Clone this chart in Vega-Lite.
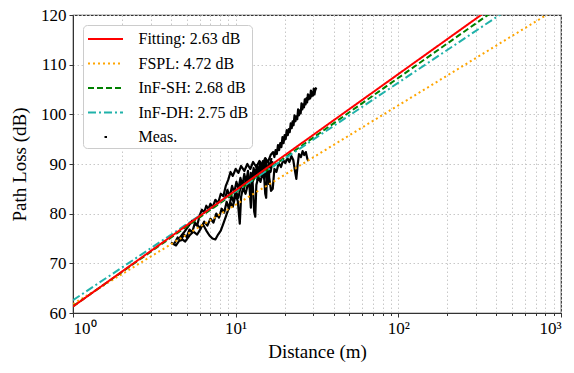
{
  "$schema": "https://vega.github.io/schema/vega-lite/v6.json",
  "width": 488,
  "height": 298,
  "autosize": {"type": "none"},
  "padding": {"left": 73, "top": 15, "right": 13, "bottom": 60},
  "background": "white",
  "config": {
    "font": "Liberation Serif",
    "view": {"stroke": "#333", "strokeWidth": 1.2},
    "axis": {
      "labelFont": "Liberation Serif",
      "titleFont": "Liberation Serif",
      "labelFontSize": 17,
      "titleFontSize": 19,
      "titleFontWeight": "normal",
      "labelColor": "#000",
      "titleColor": "#000",
      "tickColor": "#333",
      "domainColor": "#333",
      "gridColor": "#c8c8c8",
      "gridDash": [1.5, 2.5],
      "gridWidth": 1
    },
    "legend": {
      "labelFont": "Liberation Serif",
      "labelFontSize": 16,
      "labelColor": "#000",
      "labelLimit": 300
    }
  },
  "datasets": {
    "models": [
      {"series": "FSPL: 4.72 dB", "d": 1, "pl": 61.8},
      {"series": "FSPL: 4.72 dB", "d": 1000, "pl": 121.8},
      {"series": "InF-SH: 2.68 dB", "d": 1, "pl": 61.34},
      {"series": "InF-SH: 2.68 dB", "d": 1000, "pl": 130.34},
      {"series": "InF-DH: 2.75 dB", "d": 1, "pl": 62.57},
      {"series": "InF-DH: 2.75 dB", "d": 1000, "pl": 128.27},
      {"series": "Fitting: 2.63 dB", "d": 1, "pl": 61.3},
      {"series": "Fitting: 2.63 dB", "d": 1000, "pl": 131.5}
    ],
    "meas": [
      {"series": "Meas.", "trace": 1, "d": 4.2, "pl": 74.0},
      {"series": "Meas.", "trace": 1, "d": 4.4, "pl": 75.2},
      {"series": "Meas.", "trace": 1, "d": 4.6, "pl": 74.6},
      {"series": "Meas.", "trace": 1, "d": 4.8, "pl": 75.8},
      {"series": "Meas.", "trace": 1, "d": 5.0, "pl": 75.3},
      {"series": "Meas.", "trace": 1, "d": 5.2, "pl": 76.8},
      {"series": "Meas.", "trace": 1, "d": 5.4, "pl": 76.2},
      {"series": "Meas.", "trace": 1, "d": 5.6, "pl": 78.0},
      {"series": "Meas.", "trace": 1, "d": 5.8, "pl": 77.6},
      {"series": "Meas.", "trace": 1, "d": 6.0, "pl": 79.6},
      {"series": "Meas.", "trace": 1, "d": 6.2, "pl": 80.8},
      {"series": "Meas.", "trace": 1, "d": 6.4, "pl": 80.2},
      {"series": "Meas.", "trace": 1, "d": 6.6, "pl": 81.6},
      {"series": "Meas.", "trace": 1, "d": 6.8, "pl": 80.9},
      {"series": "Meas.", "trace": 1, "d": 7.0, "pl": 82.0},
      {"series": "Meas.", "trace": 1, "d": 7.2, "pl": 81.2},
      {"series": "Meas.", "trace": 1, "d": 7.5, "pl": 82.8},
      {"series": "Meas.", "trace": 1, "d": 7.8, "pl": 82.1},
      {"series": "Meas.", "trace": 1, "d": 8.1, "pl": 84.0},
      {"series": "Meas.", "trace": 1, "d": 8.4, "pl": 83.5},
      {"series": "Meas.", "trace": 1, "d": 8.7, "pl": 85.6},
      {"series": "Meas.", "trace": 1, "d": 9.0, "pl": 86.8},
      {"series": "Meas.", "trace": 1, "d": 9.3, "pl": 88.4},
      {"series": "Meas.", "trace": 1, "d": 9.6, "pl": 87.6},
      {"series": "Meas.", "trace": 1, "d": 10.0, "pl": 89.0},
      {"series": "Meas.", "trace": 1, "d": 10.4, "pl": 88.2},
      {"series": "Meas.", "trace": 1, "d": 10.8, "pl": 89.6},
      {"series": "Meas.", "trace": 1, "d": 11.3, "pl": 88.6},
      {"series": "Meas.", "trace": 1, "d": 11.8, "pl": 90.0},
      {"series": "Meas.", "trace": 1, "d": 12.3, "pl": 89.0},
      {"series": "Meas.", "trace": 1, "d": 12.8, "pl": 90.4},
      {"series": "Meas.", "trace": 1, "d": 13.4, "pl": 89.4},
      {"series": "Meas.", "trace": 1, "d": 14.0, "pl": 90.6},
      {"series": "Meas.", "trace": 1, "d": 14.6, "pl": 89.8},
      {"series": "Meas.", "trace": 1, "d": 15.2, "pl": 91.2},
      {"series": "Meas.", "trace": 1, "d": 15.8, "pl": 90.4},
      {"series": "Meas.", "trace": 1, "d": 16.4, "pl": 91.8},
      {"series": "Meas.", "trace": 1, "d": 17.0, "pl": 92.4},
      {"series": "Meas.", "trace": 1, "d": 17.3, "pl": 91.4},
      {"series": "Meas.", "trace": 1, "d": 17.6, "pl": 92.8},
      {"series": "Meas.", "trace": 1, "d": 17.9, "pl": 92.0},
      {"series": "Meas.", "trace": 1, "d": 18.2, "pl": 93.8},
      {"series": "Meas.", "trace": 1, "d": 18.5, "pl": 92.8},
      {"series": "Meas.", "trace": 1, "d": 18.8, "pl": 94.2},
      {"series": "Meas.", "trace": 1, "d": 19.1, "pl": 93.4},
      {"series": "Meas.", "trace": 1, "d": 19.4, "pl": 95.4},
      {"series": "Meas.", "trace": 1, "d": 19.7, "pl": 94.2},
      {"series": "Meas.", "trace": 1, "d": 20.0, "pl": 95.8},
      {"series": "Meas.", "trace": 1, "d": 20.3, "pl": 95.0},
      {"series": "Meas.", "trace": 1, "d": 20.6, "pl": 96.8},
      {"series": "Meas.", "trace": 1, "d": 20.9, "pl": 95.8},
      {"series": "Meas.", "trace": 1, "d": 21.2, "pl": 97.0},
      {"series": "Meas.", "trace": 1, "d": 21.5, "pl": 96.4},
      {"series": "Meas.", "trace": 1, "d": 21.8, "pl": 98.2},
      {"series": "Meas.", "trace": 1, "d": 22.1, "pl": 97.2},
      {"series": "Meas.", "trace": 1, "d": 22.4, "pl": 98.6},
      {"series": "Meas.", "trace": 1, "d": 22.7, "pl": 97.8},
      {"series": "Meas.", "trace": 1, "d": 23.0, "pl": 99.8},
      {"series": "Meas.", "trace": 1, "d": 23.3, "pl": 98.6},
      {"series": "Meas.", "trace": 1, "d": 23.6, "pl": 99.6},
      {"series": "Meas.", "trace": 1, "d": 23.9, "pl": 99.0},
      {"series": "Meas.", "trace": 1, "d": 24.2, "pl": 101.0},
      {"series": "Meas.", "trace": 1, "d": 24.5, "pl": 99.8},
      {"series": "Meas.", "trace": 1, "d": 24.8, "pl": 100.8},
      {"series": "Meas.", "trace": 1, "d": 25.1, "pl": 100.2},
      {"series": "Meas.", "trace": 1, "d": 25.4, "pl": 102.2},
      {"series": "Meas.", "trace": 1, "d": 25.7, "pl": 101.0},
      {"series": "Meas.", "trace": 1, "d": 26.0, "pl": 102.0},
      {"series": "Meas.", "trace": 1, "d": 26.3, "pl": 101.4},
      {"series": "Meas.", "trace": 1, "d": 26.6, "pl": 103.0},
      {"series": "Meas.", "trace": 1, "d": 26.9, "pl": 102.0},
      {"series": "Meas.", "trace": 1, "d": 27.2, "pl": 103.2},
      {"series": "Meas.", "trace": 1, "d": 27.5, "pl": 102.4},
      {"series": "Meas.", "trace": 1, "d": 27.8, "pl": 104.0},
      {"series": "Meas.", "trace": 1, "d": 28.1, "pl": 103.0},
      {"series": "Meas.", "trace": 1, "d": 28.4, "pl": 103.8},
      {"series": "Meas.", "trace": 1, "d": 28.7, "pl": 103.2},
      {"series": "Meas.", "trace": 1, "d": 29.0, "pl": 104.8},
      {"series": "Meas.", "trace": 1, "d": 29.3, "pl": 103.6},
      {"series": "Meas.", "trace": 1, "d": 29.6, "pl": 104.4},
      {"series": "Meas.", "trace": 1, "d": 29.9, "pl": 103.8},
      {"series": "Meas.", "trace": 1, "d": 30.2, "pl": 105.2},
      {"series": "Meas.", "trace": 1, "d": 30.5, "pl": 104.0},
      {"series": "Meas.", "trace": 1, "d": 30.8, "pl": 104.8},
      {"series": "Meas.", "trace": 1, "d": 31.3, "pl": 105.4},
      {"series": "Meas.", "trace": 2, "d": 4.5, "pl": 75.0},
      {"series": "Meas.", "trace": 2, "d": 4.8, "pl": 76.2},
      {"series": "Meas.", "trace": 2, "d": 5.1, "pl": 77.4},
      {"series": "Meas.", "trace": 2, "d": 5.4, "pl": 78.6},
      {"series": "Meas.", "trace": 2, "d": 5.7, "pl": 78.0},
      {"series": "Meas.", "trace": 2, "d": 6.0, "pl": 77.2},
      {"series": "Meas.", "trace": 2, "d": 6.3, "pl": 77.8},
      {"series": "Meas.", "trace": 2, "d": 6.6, "pl": 76.6},
      {"series": "Meas.", "trace": 2, "d": 6.9, "pl": 75.6},
      {"series": "Meas.", "trace": 2, "d": 7.2, "pl": 75.0},
      {"series": "Meas.", "trace": 2, "d": 7.5, "pl": 74.8},
      {"series": "Meas.", "trace": 2, "d": 7.8, "pl": 75.8},
      {"series": "Meas.", "trace": 2, "d": 8.1, "pl": 76.6},
      {"series": "Meas.", "trace": 2, "d": 8.4, "pl": 78.0},
      {"series": "Meas.", "trace": 2, "d": 8.7, "pl": 79.4},
      {"series": "Meas.", "trace": 2, "d": 9.0, "pl": 80.8},
      {"series": "Meas.", "trace": 2, "d": 9.3, "pl": 82.2},
      {"series": "Meas.", "trace": 2, "d": 9.6, "pl": 81.4},
      {"series": "Meas.", "trace": 2, "d": 10.0, "pl": 83.8},
      {"series": "Meas.", "trace": 2, "d": 10.3, "pl": 82.6},
      {"series": "Meas.", "trace": 2, "d": 10.6, "pl": 78.0},
      {"series": "Meas.", "trace": 2, "d": 10.8, "pl": 83.4},
      {"series": "Meas.", "trace": 2, "d": 11.1, "pl": 85.2},
      {"series": "Meas.", "trace": 2, "d": 11.5, "pl": 84.0},
      {"series": "Meas.", "trace": 2, "d": 11.9, "pl": 86.0},
      {"series": "Meas.", "trace": 2, "d": 12.3, "pl": 85.2},
      {"series": "Meas.", "trace": 2, "d": 12.7, "pl": 86.6},
      {"series": "Meas.", "trace": 2, "d": 13.0, "pl": 80.4},
      {"series": "Meas.", "trace": 2, "d": 13.2, "pl": 79.4},
      {"series": "Meas.", "trace": 2, "d": 13.4, "pl": 85.8},
      {"series": "Meas.", "trace": 2, "d": 13.8, "pl": 87.4},
      {"series": "Meas.", "trace": 2, "d": 14.2, "pl": 86.4},
      {"series": "Meas.", "trace": 2, "d": 14.6, "pl": 88.0},
      {"series": "Meas.", "trace": 2, "d": 15.0, "pl": 87.0},
      {"series": "Meas.", "trace": 2, "d": 15.5, "pl": 88.6},
      {"series": "Meas.", "trace": 2, "d": 16.0, "pl": 87.8},
      {"series": "Meas.", "trace": 2, "d": 16.5, "pl": 84.6},
      {"series": "Meas.", "trace": 2, "d": 16.9, "pl": 85.0},
      {"series": "Meas.", "trace": 2, "d": 17.3, "pl": 89.0},
      {"series": "Meas.", "trace": 2, "d": 17.8, "pl": 88.4},
      {"series": "Meas.", "trace": 2, "d": 18.4, "pl": 90.2},
      {"series": "Meas.", "trace": 2, "d": 19.0, "pl": 89.4},
      {"series": "Meas.", "trace": 2, "d": 19.6, "pl": 90.8},
      {"series": "Meas.", "trace": 2, "d": 20.2, "pl": 90.2},
      {"series": "Meas.", "trace": 2, "d": 20.8, "pl": 91.2},
      {"series": "Meas.", "trace": 2, "d": 21.4, "pl": 90.4},
      {"series": "Meas.", "trace": 2, "d": 22.0, "pl": 91.6},
      {"series": "Meas.", "trace": 2, "d": 22.6, "pl": 90.8},
      {"series": "Meas.", "trace": 2, "d": 23.2, "pl": 88.4},
      {"series": "Meas.", "trace": 2, "d": 23.6, "pl": 87.0},
      {"series": "Meas.", "trace": 2, "d": 24.0, "pl": 89.6},
      {"series": "Meas.", "trace": 2, "d": 24.5, "pl": 92.0},
      {"series": "Meas.", "trace": 2, "d": 25.2, "pl": 91.4},
      {"series": "Meas.", "trace": 2, "d": 25.8, "pl": 92.6},
      {"series": "Meas.", "trace": 2, "d": 26.4, "pl": 91.8},
      {"series": "Meas.", "trace": 2, "d": 27.0, "pl": 92.4},
      {"series": "Meas.", "trace": 2, "d": 27.6, "pl": 91.0},
      {"series": "Meas.", "trace": 2, "d": 28.0, "pl": 90.6},
      {"series": "Meas.", "trace": 3, "d": 4.0, "pl": 74.2},
      {"series": "Meas.", "trace": 3, "d": 4.3, "pl": 73.6},
      {"series": "Meas.", "trace": 3, "d": 4.6, "pl": 75.0},
      {"series": "Meas.", "trace": 3, "d": 4.9, "pl": 74.4},
      {"series": "Meas.", "trace": 3, "d": 5.2, "pl": 75.6},
      {"series": "Meas.", "trace": 3, "d": 5.5, "pl": 76.4},
      {"series": "Meas.", "trace": 3, "d": 5.8, "pl": 75.8},
      {"series": "Meas.", "trace": 3, "d": 6.1, "pl": 77.0},
      {"series": "Meas.", "trace": 3, "d": 6.4, "pl": 78.4},
      {"series": "Meas.", "trace": 3, "d": 6.7, "pl": 77.6},
      {"series": "Meas.", "trace": 3, "d": 7.0, "pl": 79.0},
      {"series": "Meas.", "trace": 3, "d": 7.3, "pl": 78.2},
      {"series": "Meas.", "trace": 3, "d": 7.6, "pl": 80.0},
      {"series": "Meas.", "trace": 3, "d": 7.9, "pl": 79.2},
      {"series": "Meas.", "trace": 3, "d": 8.2, "pl": 81.0},
      {"series": "Meas.", "trace": 3, "d": 8.5, "pl": 80.2},
      {"series": "Meas.", "trace": 3, "d": 8.8, "pl": 82.4},
      {"series": "Meas.", "trace": 3, "d": 9.1, "pl": 81.0},
      {"series": "Meas.", "trace": 3, "d": 9.4, "pl": 83.6},
      {"series": "Meas.", "trace": 3, "d": 9.7, "pl": 82.4},
      {"series": "Meas.", "trace": 3, "d": 10.0, "pl": 84.6},
      {"series": "Meas.", "trace": 3, "d": 10.4, "pl": 83.2},
      {"series": "Meas.", "trace": 3, "d": 10.8, "pl": 86.0},
      {"series": "Meas.", "trace": 3, "d": 11.2, "pl": 84.6},
      {"series": "Meas.", "trace": 3, "d": 11.6, "pl": 87.4},
      {"series": "Meas.", "trace": 3, "d": 12.0, "pl": 85.8},
      {"series": "Meas.", "trace": 3, "d": 12.4, "pl": 88.2},
      {"series": "Meas.", "trace": 3, "d": 12.8, "pl": 86.6},
      {"series": "Meas.", "trace": 3, "d": 13.2, "pl": 88.8},
      {"series": "Meas.", "trace": 3, "d": 13.6, "pl": 86.8},
      {"series": "Meas.", "trace": 3, "d": 14.0, "pl": 89.4},
      {"series": "Meas.", "trace": 3, "d": 14.4, "pl": 87.6},
      {"series": "Meas.", "trace": 3, "d": 14.8, "pl": 89.8},
      {"series": "Meas.", "trace": 3, "d": 15.2, "pl": 84.0},
      {"series": "Meas.", "trace": 3, "d": 15.4, "pl": 83.2},
      {"series": "Meas.", "trace": 3, "d": 15.6, "pl": 88.6},
      {"series": "Meas.", "trace": 3, "d": 16.0, "pl": 90.2},
      {"series": "Meas.", "trace": 3, "d": 16.4, "pl": 88.4},
      {"series": "Meas.", "trace": 3, "d": 16.8, "pl": 90.6},
      {"series": "Meas.", "trace": 4, "d": 8.6, "pl": 83.0},
      {"series": "Meas.", "trace": 4, "d": 8.9, "pl": 84.8},
      {"series": "Meas.", "trace": 4, "d": 9.2, "pl": 83.4},
      {"series": "Meas.", "trace": 4, "d": 9.5, "pl": 85.6},
      {"series": "Meas.", "trace": 4, "d": 9.8, "pl": 84.2},
      {"series": "Meas.", "trace": 4, "d": 10.1, "pl": 86.4},
      {"series": "Meas.", "trace": 4, "d": 10.4, "pl": 85.0},
      {"series": "Meas.", "trace": 4, "d": 10.7, "pl": 87.2},
      {"series": "Meas.", "trace": 4, "d": 11.0, "pl": 85.6},
      {"series": "Meas.", "trace": 4, "d": 11.3, "pl": 88.0},
      {"series": "Meas.", "trace": 4, "d": 11.6, "pl": 86.2},
      {"series": "Meas.", "trace": 4, "d": 11.9, "pl": 88.6},
      {"series": "Meas.", "trace": 4, "d": 12.2, "pl": 84.8},
      {"series": "Meas.", "trace": 4, "d": 12.4, "pl": 81.2},
      {"series": "Meas.", "trace": 4, "d": 12.6, "pl": 86.8},
      {"series": "Meas.", "trace": 4, "d": 12.9, "pl": 89.2},
      {"series": "Meas.", "trace": 4, "d": 13.2, "pl": 87.2},
      {"series": "Meas.", "trace": 4, "d": 13.5, "pl": 89.8},
      {"series": "Meas.", "trace": 4, "d": 13.8, "pl": 88.0},
      {"series": "Meas.", "trace": 4, "d": 14.1, "pl": 90.2},
      {"series": "Meas.", "trace": 4, "d": 14.4, "pl": 88.4},
      {"series": "Meas.", "trace": 4, "d": 14.7, "pl": 90.6},
      {"series": "Meas.", "trace": 4, "d": 15.0, "pl": 89.0},
      {"series": "Meas.", "trace": 4, "d": 15.3, "pl": 91.0},
      {"series": "Meas.", "trace": 4, "d": 15.6, "pl": 88.8},
      {"series": "Meas.", "trace": 4, "d": 15.9, "pl": 86.0},
      {"series": "Meas.", "trace": 4, "d": 16.2, "pl": 89.4},
      {"series": "Meas.", "trace": 4, "d": 16.6, "pl": 91.2}
    ]
  },
  "layer": [
    {
      "data": {"name": "meas"},
      "mark": {"type": "line", "clip": true, "strokeWidth": 2.2, "strokeJoin": "round"},
      "encoding": {
        "x": {"field": "d", "type": "quantitative", "scale": {"type": "log", "domain": [1, 1000], "nice": false}},
        "y": {"field": "pl", "type": "quantitative", "scale": {"domain": [60, 120], "nice": false, "zero": false}},
        "detail": {"field": "trace"},
        "color": {"field": "series", "type": "nominal"}
      }
    },
    {
      "data": {"name": "models"},
      "mark": {"type": "line", "clip": true, "strokeWidth": 2},
      "encoding": {
        "x": {
          "field": "d",
          "type": "quantitative",
          "scale": {"type": "log", "domain": [1, 1000], "nice": false},
          "axis": {
            "title": "Distance (m)",
            "titlePadding": 6,
            "values": [1,2,3,4,5,6,7,8,9,10,20,30,40,50,60,70,80,90,100,200,300,400,500,600,700,800,900,1000],
            "labelExpr": "datum.value == 1 ? '10⁰' : datum.value == 10 ? '10¹' : datum.value == 100 ? '10²' : datum.value == 1000 ? '10³' : ''",
            "tickSize": {"condition": {"test": "indexof([1,10,100,1000], datum.value) >= 0", "value": 4}, "value": 2.5},
            "labelPadding": 3,
            "grid": true
          }
        },
        "y": {
          "field": "pl",
          "type": "quantitative",
          "scale": {"domain": [60, 120], "nice": false, "zero": false},
          "axis": {
            "title": "Path Loss (dB)",
            "titlePadding": 11,
            "values": [60, 70, 80, 90, 100, 110, 120],
            "tickSize": 4,
            "labelPadding": 3,
            "grid": true
          }
        },
        "color": {
          "field": "series",
          "type": "nominal",
          "scale": {
            "domain": ["Fitting: 2.63 dB", "FSPL: 4.72 dB", "InF-SH: 2.68 dB", "InF-DH: 2.75 dB", "Meas."],
            "range": ["#ff0000", "#ffa500", "#008000", "#20b2aa", "#000000"]
          },
          "legend": {
            "title": null,
            "orient": "top-left",
            "offset": 10,
            "padding": 3,
            "fillColor": "white",
            "strokeColor": "#cccccc",
            "cornerRadius": 4,
            "symbolType": "M-1.75,0H1.75",
            "symbolSize": 400,
            "symbolStrokeWidth": 2,
            "symbolOffset": 8.5,
            "labelOffset": 22,
            "rowPadding": 5.5
          }
        },
        "strokeDash": {
          "field": "series",
          "type": "nominal",
          "scale": {
            "domain": ["Fitting: 2.63 dB", "FSPL: 4.72 dB", "InF-SH: 2.68 dB", "InF-DH: 2.75 dB", "Meas."],
            "range": [[1, 0], [2, 3], [6, 3], [8, 3, 2, 3], [0.01, 16.5, 2.5, 100]]
          },
          "legend": {
            "title": null,
            "orient": "top-left",
            "offset": 10,
            "padding": 3,
            "fillColor": "white",
            "strokeColor": "#cccccc",
            "cornerRadius": 4,
            "symbolType": "M-1.75,0H1.75",
            "symbolSize": 400,
            "symbolStrokeWidth": 2,
            "symbolOffset": 8.5,
            "labelOffset": 22,
            "rowPadding": 5.5
          }
        }
      }
    }
  ]
}
